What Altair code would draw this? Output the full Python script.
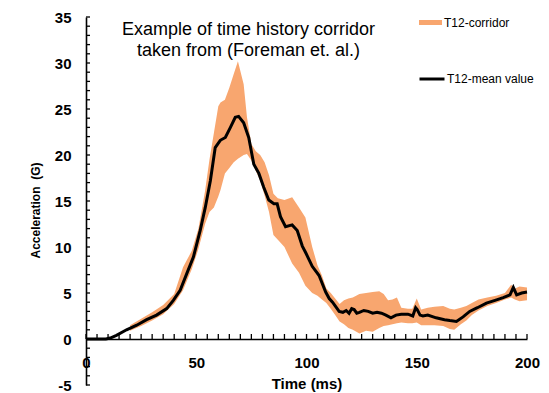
import altair as alt
import pandas as pd

# ---- data ----
mean_t = [0, 5, 9, 11, 13.8, 18.4, 23, 27.5, 32, 36.6, 39.6, 42.7, 45.7, 48.7, 51.8,
          54.1, 56.4, 58.6, 60.9, 63.2, 65.5, 67.7, 69.2, 71.5, 73.8, 76.1, 78.4, 80.6,
          82.9, 85.2, 86.7, 88.2, 90.5, 93.5, 95.8, 98.1, 99.6, 102.6, 105.7, 108.7,
          110.3, 111.8, 114.8, 116.5, 118, 119.3, 120.5, 121.6, 122.8, 124, 126, 128,
          130, 132, 134, 136, 138.3, 140.6, 143, 146, 148.2, 149.5, 150.2, 151.5, 152.8,
          155, 158.8, 162.6, 165, 168, 171, 174, 177.5, 181.6, 185.5, 189.2, 192.3,
          193.8, 195.3, 197.6, 200]
mean_g = [0, 0, 0, 0.1, 0.4, 1.0, 1.5, 2.1, 2.6, 3.3, 4.2, 5.3, 7.1, 8.9, 11.8,
          14.3, 17.2, 20.8, 21.6, 21.9, 23.0, 24.1, 24.2, 23.5, 21.9, 19.0, 18.0, 16.5,
          15.1, 14.7, 14.7, 13.3, 12.2, 12.4, 11.8, 10.1, 9.4, 7.9, 6.9, 5.1,
          4.4, 4.0, 3.0, 2.9, 3.1, 2.8, 3.3, 3.2, 2.8, 2.9, 3.1, 3.0,
          2.8, 2.9, 2.8, 2.6, 2.3, 2.6, 2.7, 2.7, 2.5, 3.4, 3.2, 2.6, 2.5,
          2.6, 2.3, 2.1, 2.0, 1.9, 2.4, 3.0, 3.4, 3.9, 4.2, 4.5, 4.8,
          5.6, 4.8, 5.0, 5.1]

corr_t = [20, 25, 30, 35, 40, 44, 48, 51, 54, 56, 58, 60, 61, 63, 65, 67, 68.9, 71.5,
          73, 75, 77, 79, 81, 83, 85, 87, 90, 93.5, 96.6, 99.5, 102.6, 105, 107, 109,
          111, 113, 115, 117, 119, 121, 124, 127, 130, 133, 135, 137, 139, 141, 143,
          146, 148, 150, 152, 155, 158, 162, 165, 167, 170, 172.5, 175, 178, 182, 186,
          190, 192.8, 194.5, 196.6, 200]
corr_low = [0.9, 1.4, 2.0, 2.7, 3.8, 5.3, 7.6, 9.8, 12.5, 13.8, 14.3, 15.5, 16.2, 18.0,
            18.6, 19.2, 19.6, 20.0, 20.1, 19.4, 18.3, 17.2, 15.6, 13.8, 11.3, 10.8, 10.0,
            8.2, 7.2, 5.8, 5.0, 4.7, 4.3, 3.9, 3.3, 2.6, 1.9, 1.6, 1.2, 1.0, 0.6, 0.9,
            0.8, 1.2, 1.4, 1.5, 1.6, 1.7, 1.8, 1.7, 1.7, 1.8, 1.5, 1.5, 1.5, 1.4, 1.1,
            1.0, 1.6, 2.0, 2.6, 3.1, 3.6, 3.9, 4.3, 4.5, 4.3, 4.1, 4.2]
corr_high = [1.5, 2.2, 2.9, 3.7, 4.9, 7.8, 9.6, 12.0, 16.1, 19.5, 22.4, 25.3, 25.7, 26.0,
             27.3, 28.8, 30.2, 27.7, 24.1, 21.2, 20.4, 20.0, 19.2, 17.8, 15.8, 15.3, 15.1,
             15.4, 14.3, 13.2, 10.0, 8.0, 6.9, 5.5, 5.0, 4.4, 3.8, 4.2, 4.4, 4.5, 4.9, 5.0,
             5.1, 5.2, 4.9, 4.2, 4.3, 4.5, 3.4, 3.3, 3.3, 4.4, 3.2, 3.4, 3.5, 3.6, 3.3,
             3.2, 3.4, 3.6, 3.9, 4.3, 4.5, 4.7, 5.0, 5.9, 5.5, 5.7, 5.6]

x_tick_values = list(range(0, 201, 5))
x_label_values = [0, 50, 100, 150, 200]
y_tick_values = list(range(-5, 36))
y_label_values = list(range(-5, 36, 5))

corridor_name = "T12-corridor"
mean_name = "T12-mean value"
title_lines = ["Example of time history corridor", "taken from (Foreman et. al.)"]

mean_df = pd.DataFrame({"t": mean_t, "g": mean_g, "series": mean_name})
corr_df = pd.DataFrame({"t": corr_t, "lo": corr_low, "hi": corr_high, "series": corridor_name})
xtick_df = pd.DataFrame({"v": x_tick_values, "base": 0})
ytick_df = pd.DataFrame({"v": y_tick_values, "base": 0})

FONT = "Liberation Sans"
ORANGE = "#F8A66F"

XS = alt.Scale(domain=[0, 200], nice=False, zero=False)
YS = alt.Scale(domain=[-5, 35], nice=False, zero=False)

area = alt.Chart(corr_df).mark_area(interpolate="linear").encode(
    x=alt.X("t:Q", scale=XS, title="Time (ms)",
            axis=alt.Axis(orient="bottom", offset=-46, values=x_label_values,
                          ticks=False, tickSize=0, labelPadding=16, labelFlush=False,
                          labelOverlap=False, grid=False, domainColor="black",
                          domainWidth=1.6, labelFont=FONT, labelFontSize=15,
                          labelFontWeight="bold", labelColor="black",
                          titleFont=FONT, titleFontSize=15, titleFontWeight="bold",
                          titleColor="black", titleY=44, titleBaseline="middle")),
    y=alt.Y("lo:Q", scale=YS, title="Acceleration\u00a0 (G)",
            axis=alt.Axis(orient="left", values=y_label_values, ticks=False,
                          tickSize=0, labelPadding=15, labelOverlap=False,
                          labelExpr="replace(datum.label, '\u2212', '-')",
                          grid=False, domainColor="black", domainWidth=1.6,
                          labelFont=FONT, labelFontSize=15, labelFontWeight="bold",
                          labelColor="black", titleFont=FONT, titleFontSize=12,
                          titleFontWeight="bold", titleColor="black",
                          titleAngle=270, titleX=-51, titleY=193,
                          titleAlign="center", titleBaseline="middle")),
    y2=alt.Y2("hi:Q"),
    fill=alt.Fill("series:N",
                  scale=alt.Scale(domain=[corridor_name], range=[ORANGE]),
                  legend=alt.Legend(orient="none", legendX=333, legendY=-6,
                                    title=None, padding=0,
                                    symbolType="M-1,-0.22H1V0.22H-1Z",
                                    symbolSize=529, symbolStrokeWidth=0,
                                    symbolOpacity=1,
                                    labelFont=FONT, labelFontSize=12,
                                    labelColor="black", labelOffset=2)),
)

line = alt.Chart(mean_df).mark_line(strokeWidth=3, interpolate="linear").encode(
    x=alt.X("t:Q"),
    y=alt.Y("g:Q"),
    stroke=alt.Stroke("series:N",
                      scale=alt.Scale(domain=[mean_name], range=["black"]),
                      legend=alt.Legend(orient="none", legendX=332, legendY=48,
                                        title=None, padding=0,
                                        symbolType="stroke", symbolSize=625,
                                        symbolStrokeWidth=3,
                                        labelFont=FONT, labelFontSize=12,
                                        labelColor="black", labelOffset=1)),
)

# inward tick marks along the x axis (at y = 0) and along the y axis (at x = 0)
x_ticks = alt.Chart(xtick_df).mark_rule(
    color="black", strokeWidth=1.3, y2Offset=-5
).encode(
    x=alt.X("v:Q"),
    y=alt.Y("base:Q"),
    y2=alt.Y2("base:Q"),
)

y_ticks = alt.Chart(ytick_df).mark_rule(
    color="black", strokeWidth=1.3, x2Offset=4
).encode(
    y=alt.Y("v:Q"),
    x=alt.X("base:Q"),
    x2=alt.X2("base:Q"),
)

chart = alt.layer(area, line, x_ticks, y_ticks).properties(
    width=441,
    height=368,
    autosize="none",
    padding={"left": 78, "top": 9, "right": 14, "bottom": 8},
    title=alt.Title(title_lines, font=FONT, fontSize=18, fontWeight="normal",
                    color="black", anchor="middle", frame="group", dx=-58,
                    offset=-50, lineHeight=21),
).configure_view(stroke=None)

chart.save("out.html", embed_options={"renderer": "svg", "actions": False})
